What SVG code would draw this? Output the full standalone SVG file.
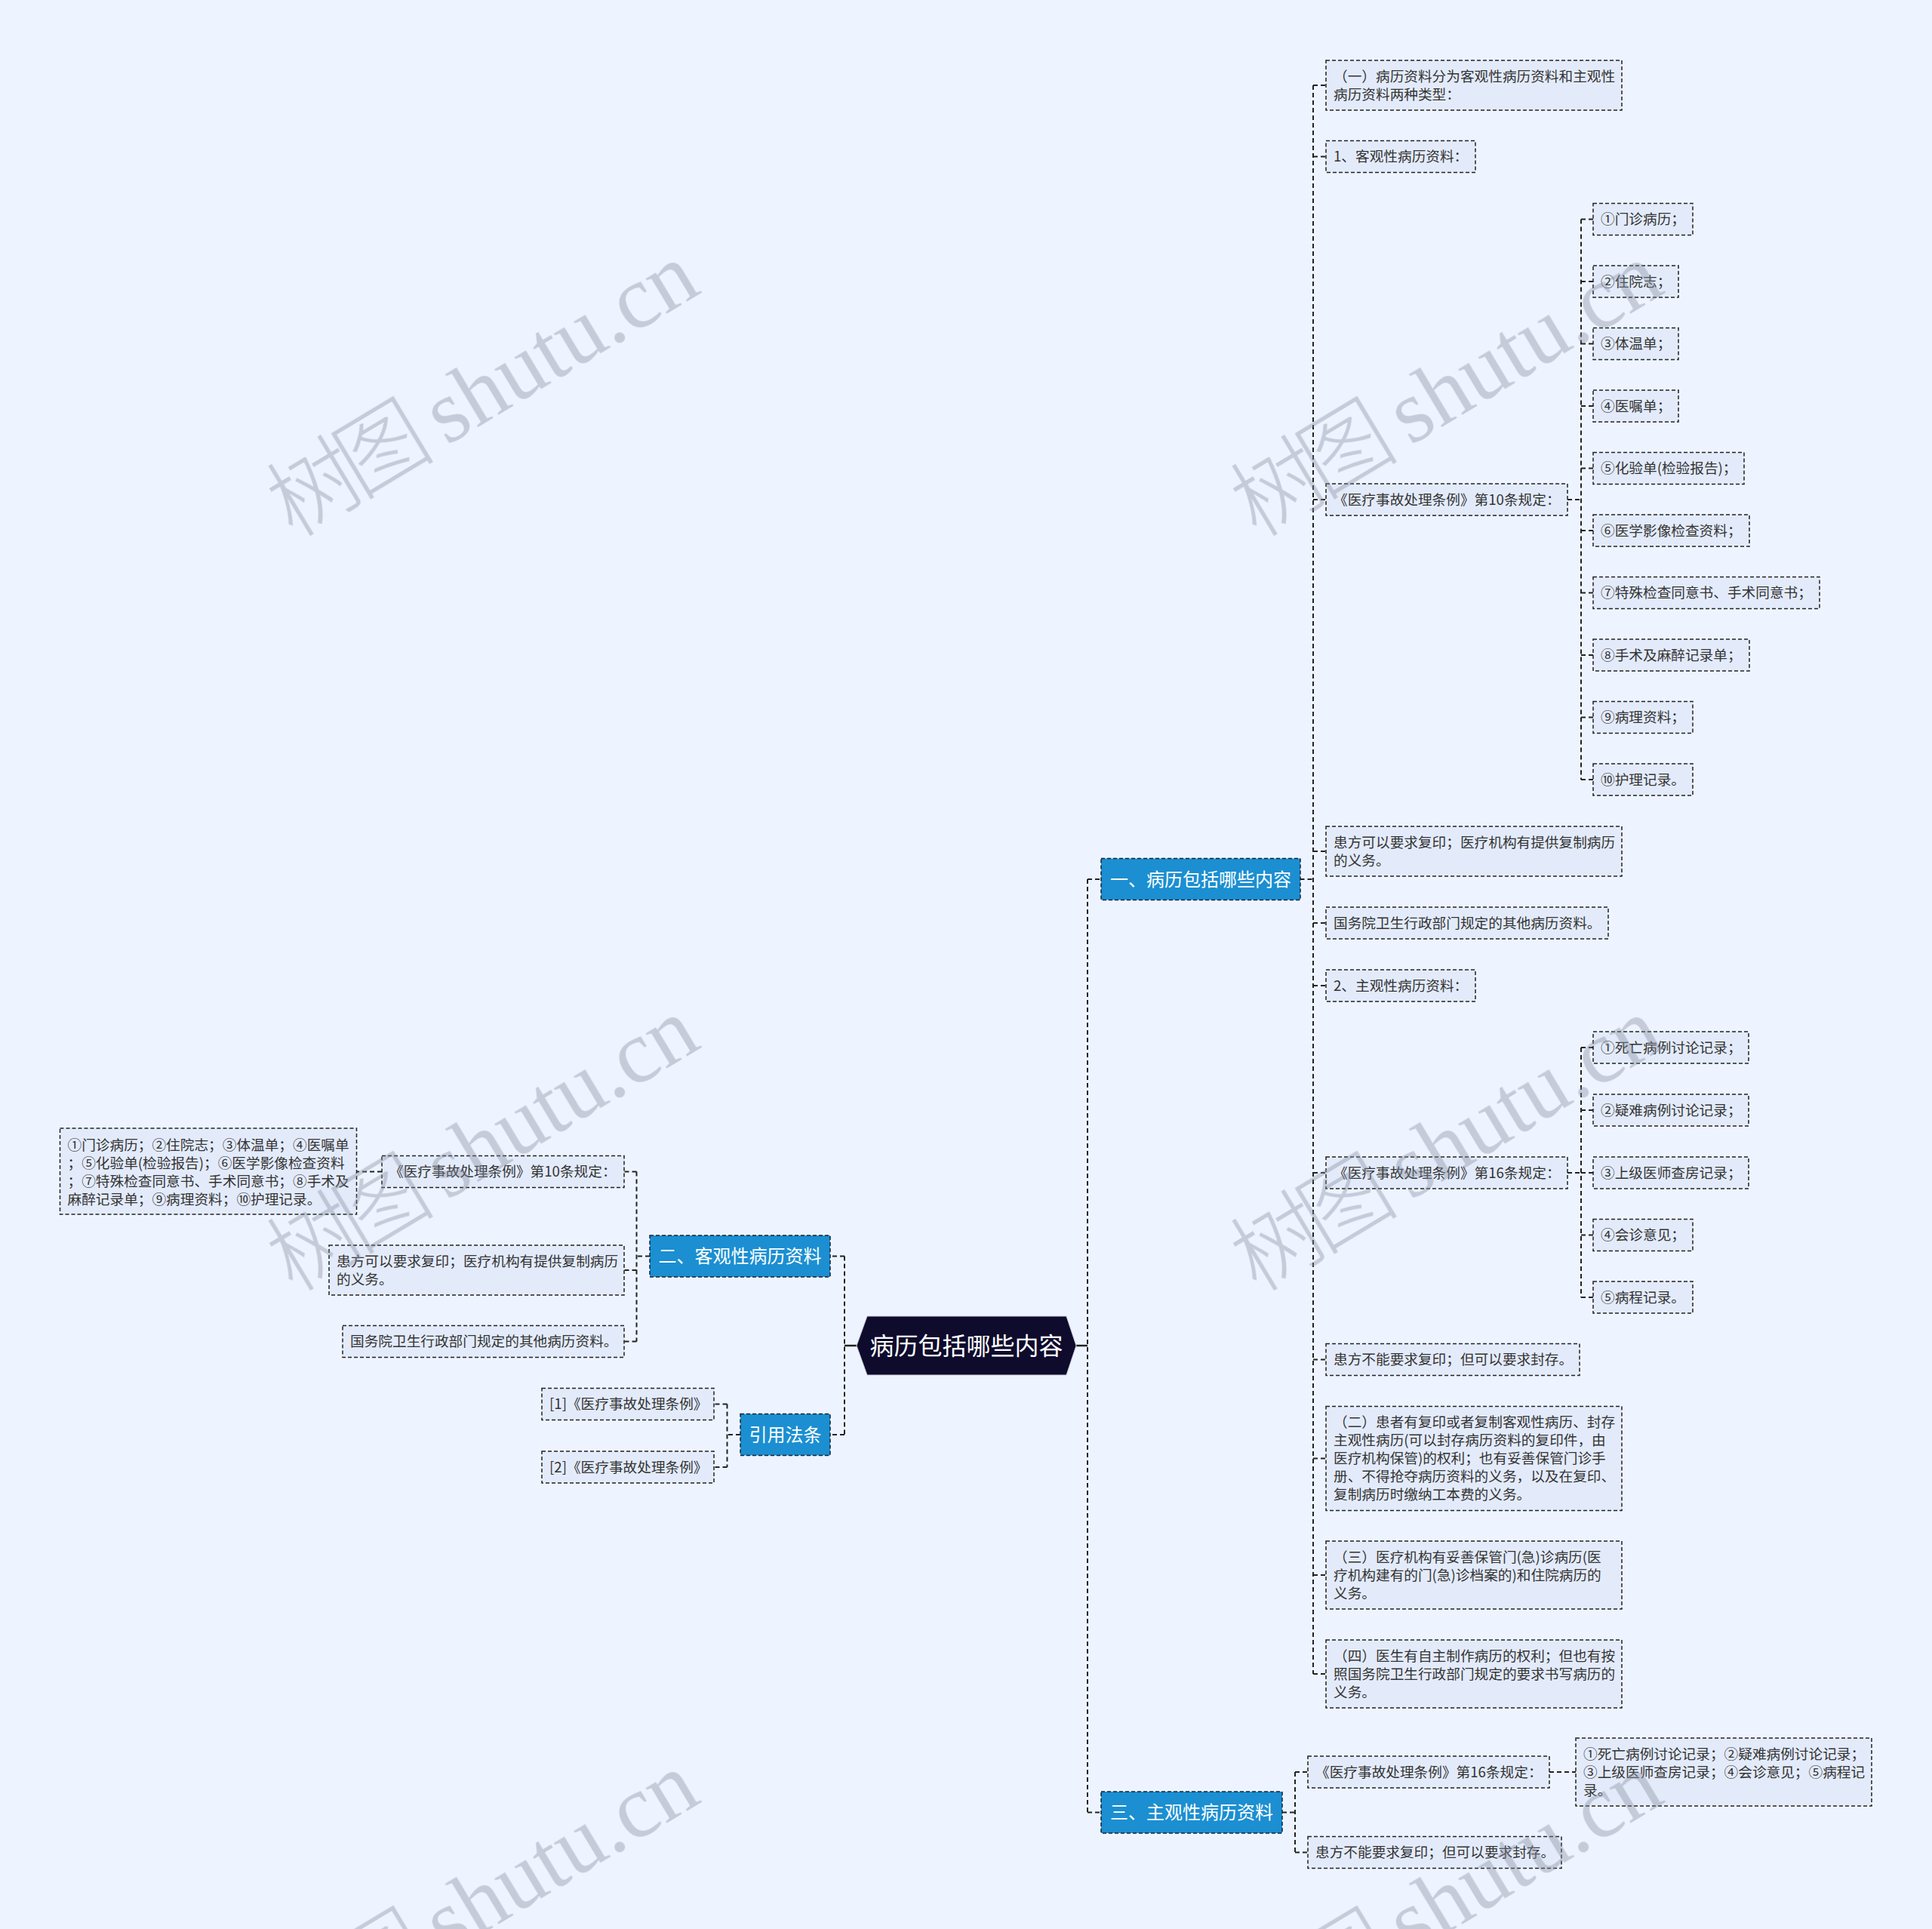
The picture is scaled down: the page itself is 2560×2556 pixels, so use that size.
<svg xmlns="http://www.w3.org/2000/svg" width="2560" height="2556" viewBox="0 0 2560 2556">
<style>
.leaf rect{fill:#e3ebfb;stroke:#222;stroke-width:1.5;stroke-dasharray:5 3}
.leaf text{font-family:"Noto Sans CJK SC","Noto Sans",sans-serif;font-size:18.67px;fill:#333}
.br rect{fill:#1b8fd1;stroke:#1a2233;stroke-width:1.5;stroke-dasharray:5 3}
.br text{font-family:"Noto Sans CJK SC","Noto Sans",sans-serif;font-size:24px;fill:#fff;text-anchor:middle}
.root polygon{fill:#0e0b2d;stroke:#c8ccd8;stroke-width:1}
.root text{font-family:"Noto Sans CJK SC","Noto Sans",sans-serif;font-size:32px;fill:#fff;text-anchor:middle}
.conn path{fill:none;stroke:#222;stroke-width:2;stroke-dasharray:6 4}
.conn path.solid{stroke-dasharray:none;stroke-width:2.5}
.wm text{font-family:"Liberation Serif","Noto Sans CJK SC",serif;font-size:118px;fill:#888fa0;text-anchor:middle}
.wm tspan.cj{font-weight:300;letter-spacing:-14px}
</style>
<rect x="0" y="0" width="2560" height="2556" fill="#eef4ff"/>

<g id="connectors" class="conn">
<path class="solid" d="M1426 1783H1441"/>
<path class="solid" d="M1135 1783H1119"/>
<path d="M1441 1165V2401.5M1441 1165H1459M1441 2401.5H1459"/>
<path d="M1119 1664.5V1901M1119 1664.5H1100M1119 1901H1100"/>
<path d="M1722.5 1165H1740M1740 113V2218M1740 113H1757M1740 207.5H1757M1740 662H1757M1740 1128H1757M1740 1223H1757M1740 1306H1757M1740 1554H1757M1740 1801.5H1757M1740 1932.5H1757M1740 2087H1757M1740 2218H1757"/>
<path d="M2077 662H2095M2095 290.5V1033M2095 290.5H2111M2095 373H2111M2095 455.5H2111M2095 538H2111M2095 620.5H2111M2095 703H2111M2095 785.5H2111M2095 868H2111M2095 950.5H2111M2095 1033H2111"/>
<path d="M2077 1554H2095M2095 1388V1719M2095 1388H2111M2095 1471H2111M2095 1554H2111M2095 1636.5H2111M2095 1719H2111"/>
<path d="M1699 2401.5H1716M1716 2348V2454.5M1716 2348H1733M1716 2454.5H1733"/>
<path d="M2053 2348H2088"/>
<path d="M861 1664.5H843.5M843.5 1552.5V1777.5M843.5 1552.5H827M843.5 1683H827M843.5 1777.5H827"/>
<path d="M506 1552.5H472.5"/>
<path d="M981 1901H963.5M963.5 1860.5V1944M963.5 1860.5H946M963.5 1944H946"/>
</g>

<g id="root" class="root">
<polygon points="1135,1783 1149,1744 1413,1744 1426,1783 1413,1822 1149,1822"/>
<text x="1280.5" y="1794.5">病历包括哪些内容</text>
</g>

<g id="b1" class="br"><rect x="1459" y="1137.5" width="264" height="55"/><text x="1591" y="1173.5">一、病历包括哪些内容</text></g>
<g id="b2" class="br"><rect x="861" y="1637" width="239" height="55"/><text x="980.5" y="1673">二、客观性病历资料</text></g>
<g id="b3" class="br"><rect x="1459" y="2374" width="240" height="55"/><text x="1579" y="2410">三、主观性病历资料</text></g>
<g id="b4" class="br"><rect x="981" y="1873.5" width="119" height="55"/><text x="1040.5" y="1909.5">引用法条</text></g>

<g id="n1" class="leaf"><rect x="1757" y="80" width="392" height="66"/><text x="1767" y="107.5">（一）病历资料分为客观性病历资料和主观性</text><text x="1767" y="131.5">病历资料两种类型：</text></g>
<g id="n2" class="leaf"><rect x="1757" y="186.5" width="198" height="42"/><text x="1767" y="214">1、客观性病历资料：</text></g>
<g id="n3" class="leaf"><rect x="1757" y="641" width="320" height="42"/><text x="1767" y="668.5">《医疗事故处理条例》第10条规定：</text></g>
<g id="n3a" class="leaf"><rect x="2111" y="269.5" width="132" height="42"/><text x="2121" y="297">①门诊病历；</text></g>
<g id="n3b" class="leaf"><rect x="2111" y="352" width="113" height="42"/><text x="2121" y="379.5">②住院志；</text></g>
<g id="n3c" class="leaf"><rect x="2111" y="434.5" width="113" height="42"/><text x="2121" y="462">③体温单；</text></g>
<g id="n3d" class="leaf"><rect x="2111" y="517" width="113" height="42"/><text x="2121" y="544.5">④医嘱单；</text></g>
<g id="n3e" class="leaf"><rect x="2111" y="599.5" width="200" height="42"/><text x="2121" y="627">⑤化验单(检验报告)；</text></g>
<g id="n3f" class="leaf"><rect x="2111" y="682" width="207" height="42"/><text x="2121" y="709.5">⑥医学影像检查资料；</text></g>
<g id="n3g" class="leaf"><rect x="2111" y="764.5" width="300" height="42"/><text x="2121" y="792">⑦特殊检查同意书、手术同意书；</text></g>
<g id="n3h" class="leaf"><rect x="2111" y="847" width="207" height="42"/><text x="2121" y="874.5">⑧手术及麻醉记录单；</text></g>
<g id="n3i" class="leaf"><rect x="2111" y="929.5" width="132" height="42"/><text x="2121" y="957">⑨病理资料；</text></g>
<g id="n3j" class="leaf"><rect x="2111" y="1012" width="132" height="42"/><text x="2121" y="1039.5">⑩护理记录。</text></g>
<g id="n4" class="leaf"><rect x="1757" y="1095" width="392" height="66"/><text x="1767" y="1122.5">患方可以要求复印；医疗机构有提供复制病历</text><text x="1767" y="1146.5">的义务。</text></g>
<g id="n5" class="leaf"><rect x="1757" y="1202" width="374" height="42"/><text x="1767" y="1229.5">国务院卫生行政部门规定的其他病历资料。</text></g>
<g id="n6" class="leaf"><rect x="1757" y="1285" width="198" height="42"/><text x="1767" y="1312.5">2、主观性病历资料：</text></g>
<g id="n7" class="leaf"><rect x="1757" y="1533" width="320" height="42"/><text x="1767" y="1560.5">《医疗事故处理条例》第16条规定：</text></g>
<g id="n7a" class="leaf"><rect x="2111" y="1367" width="206" height="42"/><text x="2121" y="1394.5">①死亡病例讨论记录；</text></g>
<g id="n7b" class="leaf"><rect x="2111" y="1450" width="206" height="42"/><text x="2121" y="1477.5">②疑难病例讨论记录；</text></g>
<g id="n7c" class="leaf"><rect x="2111" y="1533" width="206" height="42"/><text x="2121" y="1560.5">③上级医师查房记录；</text></g>
<g id="n7d" class="leaf"><rect x="2111" y="1615.5" width="132" height="42"/><text x="2121" y="1643">④会诊意见；</text></g>
<g id="n7e" class="leaf"><rect x="2111" y="1698" width="132" height="42"/><text x="2121" y="1725.5">⑤病程记录。</text></g>
<g id="n8" class="leaf"><rect x="1757" y="1780.5" width="336" height="42"/><text x="1767" y="1808">患方不能要求复印；但可以要求封存。</text></g>
<g id="n9" class="leaf"><rect x="1757" y="1863.5" width="392" height="138"/><text x="1767" y="1891">（二）患者有复印或者复制客观性病历、封存</text><text x="1767" y="1915">主观性病历(可以封存病历资料的复印件，由</text><text x="1767" y="1939">医疗机构保管)的权利；也有妥善保管门诊手</text><text x="1767" y="1963">册、不得抢夺病历资料的义务，以及在复印、</text><text x="1767" y="1987">复制病历时缴纳工本费的义务。</text></g>
<g id="n10" class="leaf"><rect x="1757" y="2042" width="392" height="90"/><text x="1767" y="2069.5">（三）医疗机构有妥善保管门(急)诊病历(医</text><text x="1767" y="2093.5">疗机构建有的门(急)诊档案的)和住院病历的</text><text x="1767" y="2117.5">义务。</text></g>
<g id="n11" class="leaf"><rect x="1757" y="2173" width="392" height="90"/><text x="1767" y="2200.5">（四）医生有自主制作病历的权利；但也有按</text><text x="1767" y="2224.5">照国务院卫生行政部门规定的要求书写病历的</text><text x="1767" y="2248.5">义务。</text></g>

<g id="m1" class="leaf"><rect x="1733" y="2327" width="320" height="42"/><text x="1743" y="2354.5">《医疗事故处理条例》第16条规定：</text></g>
<g id="m2" class="leaf"><rect x="1733" y="2433.5" width="336" height="42"/><text x="1743" y="2461">患方不能要求复印；但可以要求封存。</text></g>
<g id="m3" class="leaf"><rect x="2088" y="2303" width="392" height="90"/><text x="2098" y="2330.5">①死亡病例讨论记录；②疑难病例讨论记录；</text><text x="2098" y="2354.5">③上级医师查房记录；④会诊意见；⑤病程记</text><text x="2098" y="2378.5">录。</text></g>

<g id="l1" class="leaf"><rect x="506" y="1531.5" width="321" height="42"/><text x="516" y="1559">《医疗事故处理条例》第10条规定：</text></g>
<g id="l1a" class="leaf"><rect x="79.5" y="1495" width="393" height="114"/><text x="89.5" y="1523.5">①门诊病历；②住院志；③体温单；④医嘱单</text><text x="89.5" y="1547.5">；⑤化验单(检验报告)；⑥医学影像检查资料</text><text x="89.5" y="1571.5">；⑦特殊检查同意书、手术同意书；⑧手术及</text><text x="89.5" y="1595.5">麻醉记录单；⑨病理资料；⑩护理记录。</text></g>
<g id="l2" class="leaf"><rect x="436" y="1650" width="391" height="66"/><text x="446" y="1677.5">患方可以要求复印；医疗机构有提供复制病历</text><text x="446" y="1701.5">的义务。</text></g>
<g id="l3" class="leaf"><rect x="454" y="1756.5" width="373" height="42"/><text x="464" y="1784">国务院卫生行政部门规定的其他病历资料。</text></g>
<g id="r1" class="leaf"><rect x="718" y="1839.5" width="228" height="42"/><text x="728" y="1867">[1]《医疗事故处理条例》</text></g>
<g id="r2" class="leaf"><rect x="718" y="1923" width="228" height="42"/><text x="728" y="1950.5">[2]《医疗事故处理条例》</text></g>

<g id="watermark" class="wm" opacity="0.4">
<text transform="translate(660 550) rotate(-31)"><tspan class="cj">树图</tspan> shutu.cn</text>
<text transform="translate(1937 550) rotate(-31)"><tspan class="cj">树图</tspan> shutu.cn</text>
<text transform="translate(660 1550) rotate(-31)"><tspan class="cj">树图</tspan> shutu.cn</text>
<text transform="translate(1937 1550) rotate(-31)"><tspan class="cj">树图</tspan> shutu.cn</text>
<text transform="translate(660 2550) rotate(-31)"><tspan class="cj">树图</tspan> shutu.cn</text>
<text transform="translate(1937 2550) rotate(-31)"><tspan class="cj">树图</tspan> shutu.cn</text>
</g>
</svg>
